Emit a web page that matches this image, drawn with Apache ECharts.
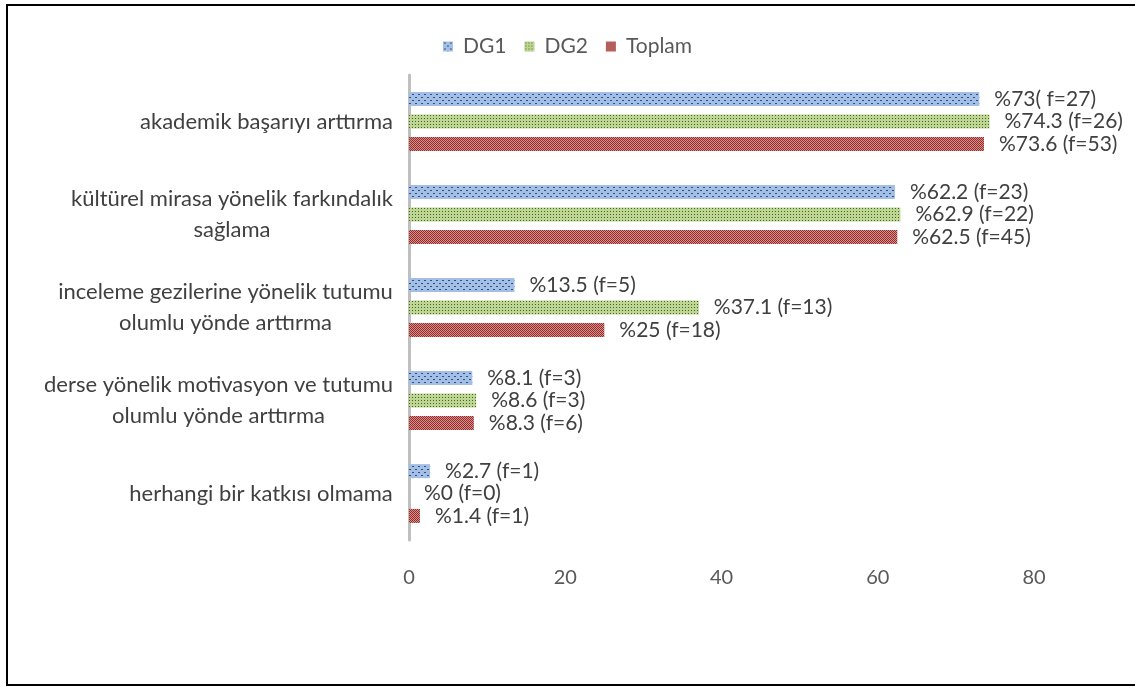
<!DOCTYPE html>
<html>
<head>
<meta charset="utf-8">
<script src="https://cdn.jsdelivr.net/npm/echarts@6/dist/echarts.min.js"></script>
<style>
  html, body { margin: 0; padding: 0; background: #fff; }
  #chart { width: 1135px; height: 687px; }
  #frame {
    position: absolute; left: 6px; top: 4px; width: 1140px; height: 678px;
    border: 2px solid #000; pointer-events: none;
  }
</style>
</head>
<body>
<div id="chart"></div>
<div id="frame"></div>
<script>
// kategoriler (yukaridan asagiya)
const categories = [
  "akademik başarıyı arttırma",
  "kültürel mirasa yönelik farkındalık\nsağlama",
  "inceleme gezilerine yönelik tutumu\nolumlu yönde arttırma",
  "derse yönelik motivasyon ve tutumu\nolumlu yönde arttırma",
  "herhangi bir katkısı olmama"
];
const dg1 = [73, 62.2, 13.5, 8.1, 2.7];
const dg2 = [74.3, 62.9, 37.1, 8.6, 0];
const toplam = [73.6, 62.5, 25, 8.3, 1.4];
const dg1Labels = ["%73( f=27)", "%62.2 (f=23)", "%13.5 (f=5)", "%8.1 (f=3)", "%2.7 (f=1)"];
const dg2Labels = ["%74.3 (f=26)", "%62.9 (f=22)", "%37.1 (f=13)", "%8.6 (f=3)", "%0 (f=0)"];
const toplamLabels = ["%73.6 (f=53)", "%62.5 (f=45)", "%25 (f=18)", "%8.3 (f=6)", "%1.4 (f=1)"];
const xTicks = [0, 20, 40, 60, 80];

const FONT = 'Lato, "Open Sans", sans-serif';
const CAT_FS = 22;
const VAL_FS = 21;

// desen (pattern) olusturma
function makePattern(w, h, bg, fg, pts) {
  const c = document.createElement("canvas");
  c.width = w; c.height = h;
  const g = c.getContext("2d");
  g.fillStyle = bg; g.fillRect(0, 0, w, h);
  g.fillStyle = fg;
  pts.forEach(p => g.fillRect(p[0], p[1], p[2] || 1, p[3] || 1));
  return { image: c, repeat: "repeat" };
}
const patDG1 = makePattern(6, 6, "#a3bfe6", "#2f4d7e", [[1, 1, 2, 1], [4, 4, 2, 1]]);
const patDG2 = makePattern(3, 3, "#bdd694", "#45621f", [[1, 1]]);
const patTop = makePattern(2, 2, "#dc8f8c", "#8e2d2a", [[0, 0], [1, 1]]);

// cok satirli etiketleri ortalamak icin genislik olcumu
const mctx = document.createElement("canvas").getContext("2d");
mctx.font = CAT_FS + "px " + FONT;
const rich = {};
categories.forEach((c, i) => {
  const w = Math.max(...c.split("\n").map(l => mctx.measureText(l).width));
  rich["c" + i] = { width: Math.ceil(w), align: "center", fontSize: CAT_FS, fontFamily: FONT, color: "#404040", lineHeight: 31 };
});

const chart = echarts.init(document.getElementById("chart"));

function barSeries(name, data, labels, pat) {
  return {
    name: name,
    type: "bar",
    data: data,
    barWidth: 14,
    barGap: "60%",
    itemStyle: { color: pat },
    label: {
      show: true,
      position: "right",
      distance: 15,
      fontSize: VAL_FS,
      fontFamily: FONT,
      color: "#404040",
      formatter: p => labels[p.dataIndex]
    }
  };
}

chart.setOption({
  animation: false,
  textStyle: { fontFamily: FONT },
  legend: {
    top: 31,
    left: "center",
    icon: "rect",
    itemWidth: 10,
    itemHeight: 10,
    itemGap: 18,
    textStyle: { fontSize: VAL_FS, color: "#595959", fontFamily: FONT, padding: [0, 0, 0, 5] },
    data: ["DG1", "DG2", "Toplam"]
  },
  grid: { left: 409, right: 101, top: 75, bottom: 147, containLabel: false },
  xAxis: {
    type: "value",
    min: xTicks[0],
    max: xTicks[xTicks.length - 1],
    interval: 20,
    splitLine: { show: false },
    axisLine: { show: false },
    axisTick: { show: false },
    axisLabel: { margin: 28, fontSize: 20, color: "#595959", fontFamily: FONT }
  },
  yAxis: {
    type: "category",
    inverse: true,
    data: categories,
    axisLine: { show: true, lineStyle: { color: "#bfbfbf", width: 3 } },
    axisTick: { show: false },
    axisLabel: {
      margin: 16,
      align: "right",
      formatter: (v, i) => v.split("\n").map(l => "{c" + i + "|" + l + "}").join("\n"),
      rich: rich
    }
  },
  series: [
    barSeries("DG1", dg1, dg1Labels, patDG1),
    barSeries("DG2", dg2, dg2Labels, patDG2),
    barSeries("Toplam", toplam, toplamLabels, patTop)
  ]
});
</script>
</body>
</html>
